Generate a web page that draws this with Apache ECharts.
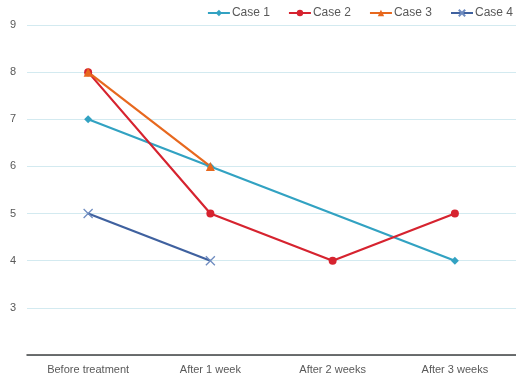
<!DOCTYPE html>
<html>
<head>
<meta charset="utf-8">
<script src="https://cdn.jsdelivr.net/npm/echarts@6/dist/echarts.min.js"></script>
<style>
  html, body { margin: 0; padding: 0; background: #fff; }
  #chart { width: 516px; height: 378px; }
</style>
</head>
<body>
<div id="chart"></div>
<script>
// Time points and scores for each case
const categories = ['Before treatment', 'After 1 week', 'After 2 weeks', 'After 3 weeks'];
const case1 = [7, 6, null, 4];
const case2 = [8, 5, 4, 5];
const case3 = [8, 6, null, null];
const case4 = [5, 4, null, null];
const yTicks = [3, 4, 5, 6, 7, 8, 9];

const textColor = '#595959';
const font = 'Liberation Sans, Arial, sans-serif';

function line(name, data, color, symbol, size, extra) {
  return Object.assign({
    name: name,
    type: 'line',
    data: data,
    connectNulls: true,
    symbol: symbol,
    symbolSize: size,
    showAllSymbol: true,
    lineStyle: { width: 2.2, color: color },
    itemStyle: { color: color },
    emphasis: { disabled: true }
  }, extra || {});
}

const chart = echarts.init(document.getElementById('chart'));
chart.setOption({
  animation: false,
  textStyle: { fontFamily: font },
  legend: {
    top: 2,
    right: -2,
    itemWidth: 22,
    itemHeight: 8,
    itemGap: 18,
    textStyle: { color: textColor, fontSize: 12, fontFamily: font, padding: [0, 0, 0, -3] },
    data: ['Case 1', 'Case 2', 'Case 3', 'Case 4']
  },
  grid: { left: 27, right: -3, top: 25, bottom: 23 },
  xAxis: {
    type: 'category',
    data: categories,
    boundaryGap: true,
    axisLine: { lineStyle: { color: '#404040', width: 1.5 } },
    axisTick: { show: false },
    axisLabel: { color: textColor, fontSize: 11, margin: 9, fontFamily: font }
  },
  yAxis: {
    type: 'value',
    min: 2,
    max: 9,
    interval: 1,
    axisLine: { show: false },
    axisTick: { show: false },
    axisLabel: {
      color: textColor,
      fontSize: 11,
      margin: 11,
      fontFamily: font,
      formatter: function (v) { return yTicks.indexOf(v) >= 0 ? String(v) : ''; }
    },
    splitLine: {
      lineStyle: { color: '#d3eaf0', width: 1 }
    }
  },
  series: [
    line('Case 1', case1, '#32a2c2', 'diamond', 8),
    line('Case 2', case2, '#d6232f', 'circle', 8),
    line('Case 3', case3, '#e7681e', 'triangle', 9),
    line('Case 4', case4, '#3f619f', 'path://M0,0L10,10M10,0L0,10', 9, {
      itemStyle: { color: '#6f8cc0', borderColor: '#6f8cc0', borderWidth: 1.3 }
    })
  ]
});
</script>
</body>
</html>
